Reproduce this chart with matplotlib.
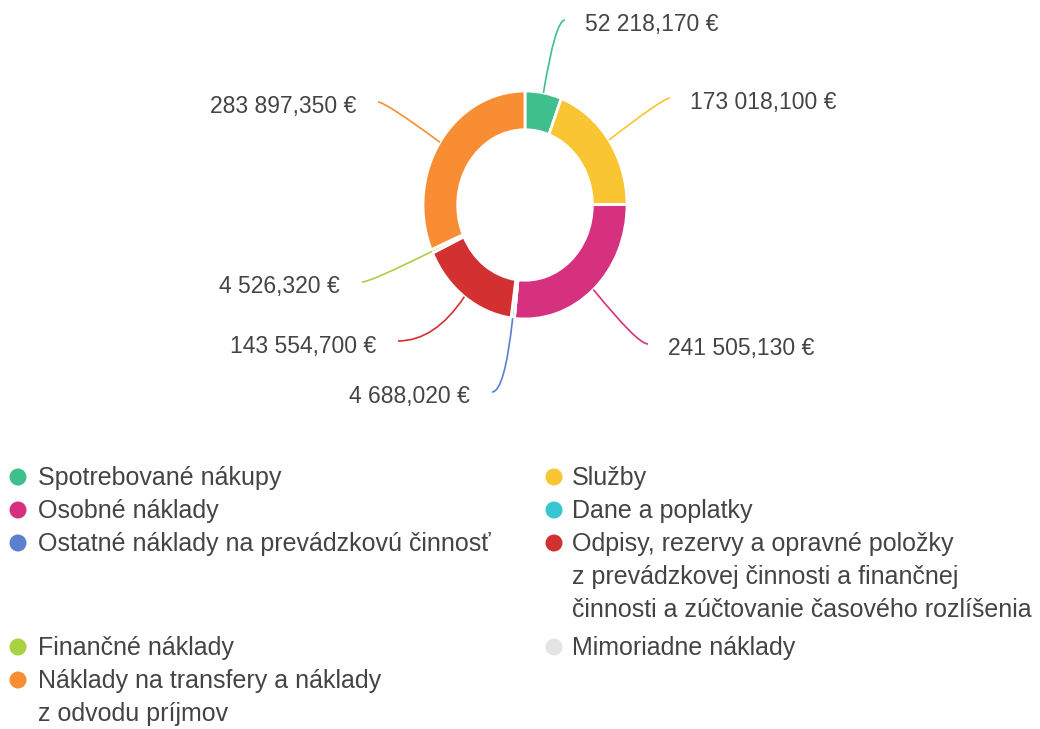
"""Donut chart of costs (náklady) with leader-line labels and a two-column legend -> out.png."""

import matplotlib

matplotlib.use("Agg")
import matplotlib.pyplot as plt
import numpy as np
from matplotlib.patches import PathPatch
from matplotlib.path import Path

plt.rcParams["font.family"] = ["Liberation Sans", "DejaVu Sans"]

# data
categories = [
    "Spotrebované nákupy",
    "Služby",
    "Osobné náklady",
    "Dane a poplatky",
    "Ostatné náklady na prevádzkovú činnosť",
    "Odpisy, rezervy a opravné položky\nz prevádzkovej činnosti a finančnej\nčinnosti a zúčtovanie časového rozlíšenia",
    "Finančné náklady",
    "Mimoriadne náklady",
    "Náklady na transfery a náklady\nz odvodu príjmov",
]
values = [52218.170, 173018.100, 241505.130, 0.0, 4688.020, 143554.700, 4526.320, 0.0, 283897.350]
colors = ["#3fbf8b", "#fac533", "#d6317f", "#36c7d2", "#5b80d0", "#d33131", "#a8d23f", "#e4e4e4", "#f98d34"]

# layout (pixels)
W, H = 1040, 729
CX, CY = 525, 205          # donut centre
RX, RY = 102, 114          # outer radius (picture is slightly stretched vertically)
label_pos = {0: (585, 25), 1: (690, 103), 2: (668, 349), 4: (470, 397),
             5: (376, 346), 6: (340, 287), 8: (356, 107)}
TEXT = "#444444"


def fmt(v):
    return f"{v:,.3f}".replace(",", " ").replace(".", ",") + " €"


def to_data(px, py):
    return (px - CX) / RX, (CY - py) / RY


fig = plt.figure(figsize=(W / 100, H / 100), dpi=100)
ax = fig.add_axes([0, 0, 1, 1])
wedges, _ = ax.pie(values, colors=colors, startangle=90, counterclock=False, radius=1,
                   wedgeprops=dict(width=0.34, edgecolor="white", linewidth=2))
ax.set_aspect("auto")
ax.set_xlim(-CX / RX, (W - CX) / RX)
ax.set_ylim(-(H - CY) / RY, CY / RY)
ax.axis("off")

# leader lines: leave the wedge radially, bend into the label horizontally
for i, (tx, ty) in label_pos.items():
    w = wedges[i]
    mid = np.deg2rad((w.theta1 + w.theta2) / 2)
    right = tx > CX
    ex, ey = to_data(tx - 20 if right else tx + 22, ty - 5)
    p0 = (np.cos(mid), np.sin(mid))
    t = ey / np.sin(mid)
    p1 = (t * np.cos(mid), ey)
    path = Path([p0, p1, (ex, ey)], [Path.MOVETO, Path.CURVE3, Path.CURVE3])
    ax.add_patch(PathPatch(path, fill=False, edgecolor=colors[i], linewidth=1.2, clip_on=False))
    lx, ly = to_data(tx, ty)
    ax.text(lx, ly, fmt(values[i]), ha="left" if right else "right", va="center",
            fontsize=16.5, color=TEXT, clip_on=False)

# legend: two columns, row-major
lax = fig.add_axes([0, 0, 1, 1])
lax.set_xlim(0, W)
lax.set_ylim(H, 0)
lax.axis("off")
col_x = [(18, 38), (554, 572)]
LINE = 33
y = 477
for r in range(0, len(categories), 2):
    row = categories[r:r + 2]
    nmax = 1
    for c, lab in enumerate(row):
        mx, tx = col_x[c]
        lines = lab.split("\n")
        nmax = max(nmax, len(lines))
        lax.scatter([mx], [y], s=150, color=colors[r + c], edgecolors="none")
        for k, line in enumerate(lines):
            lax.text(tx, y + 1 + k * LINE, line, ha="left", va="center", fontsize=18, color=TEXT)
    y += LINE * nmax + (5 if nmax > 1 else 0)

fig.savefig("out.png", dpi=100, facecolor="white")
